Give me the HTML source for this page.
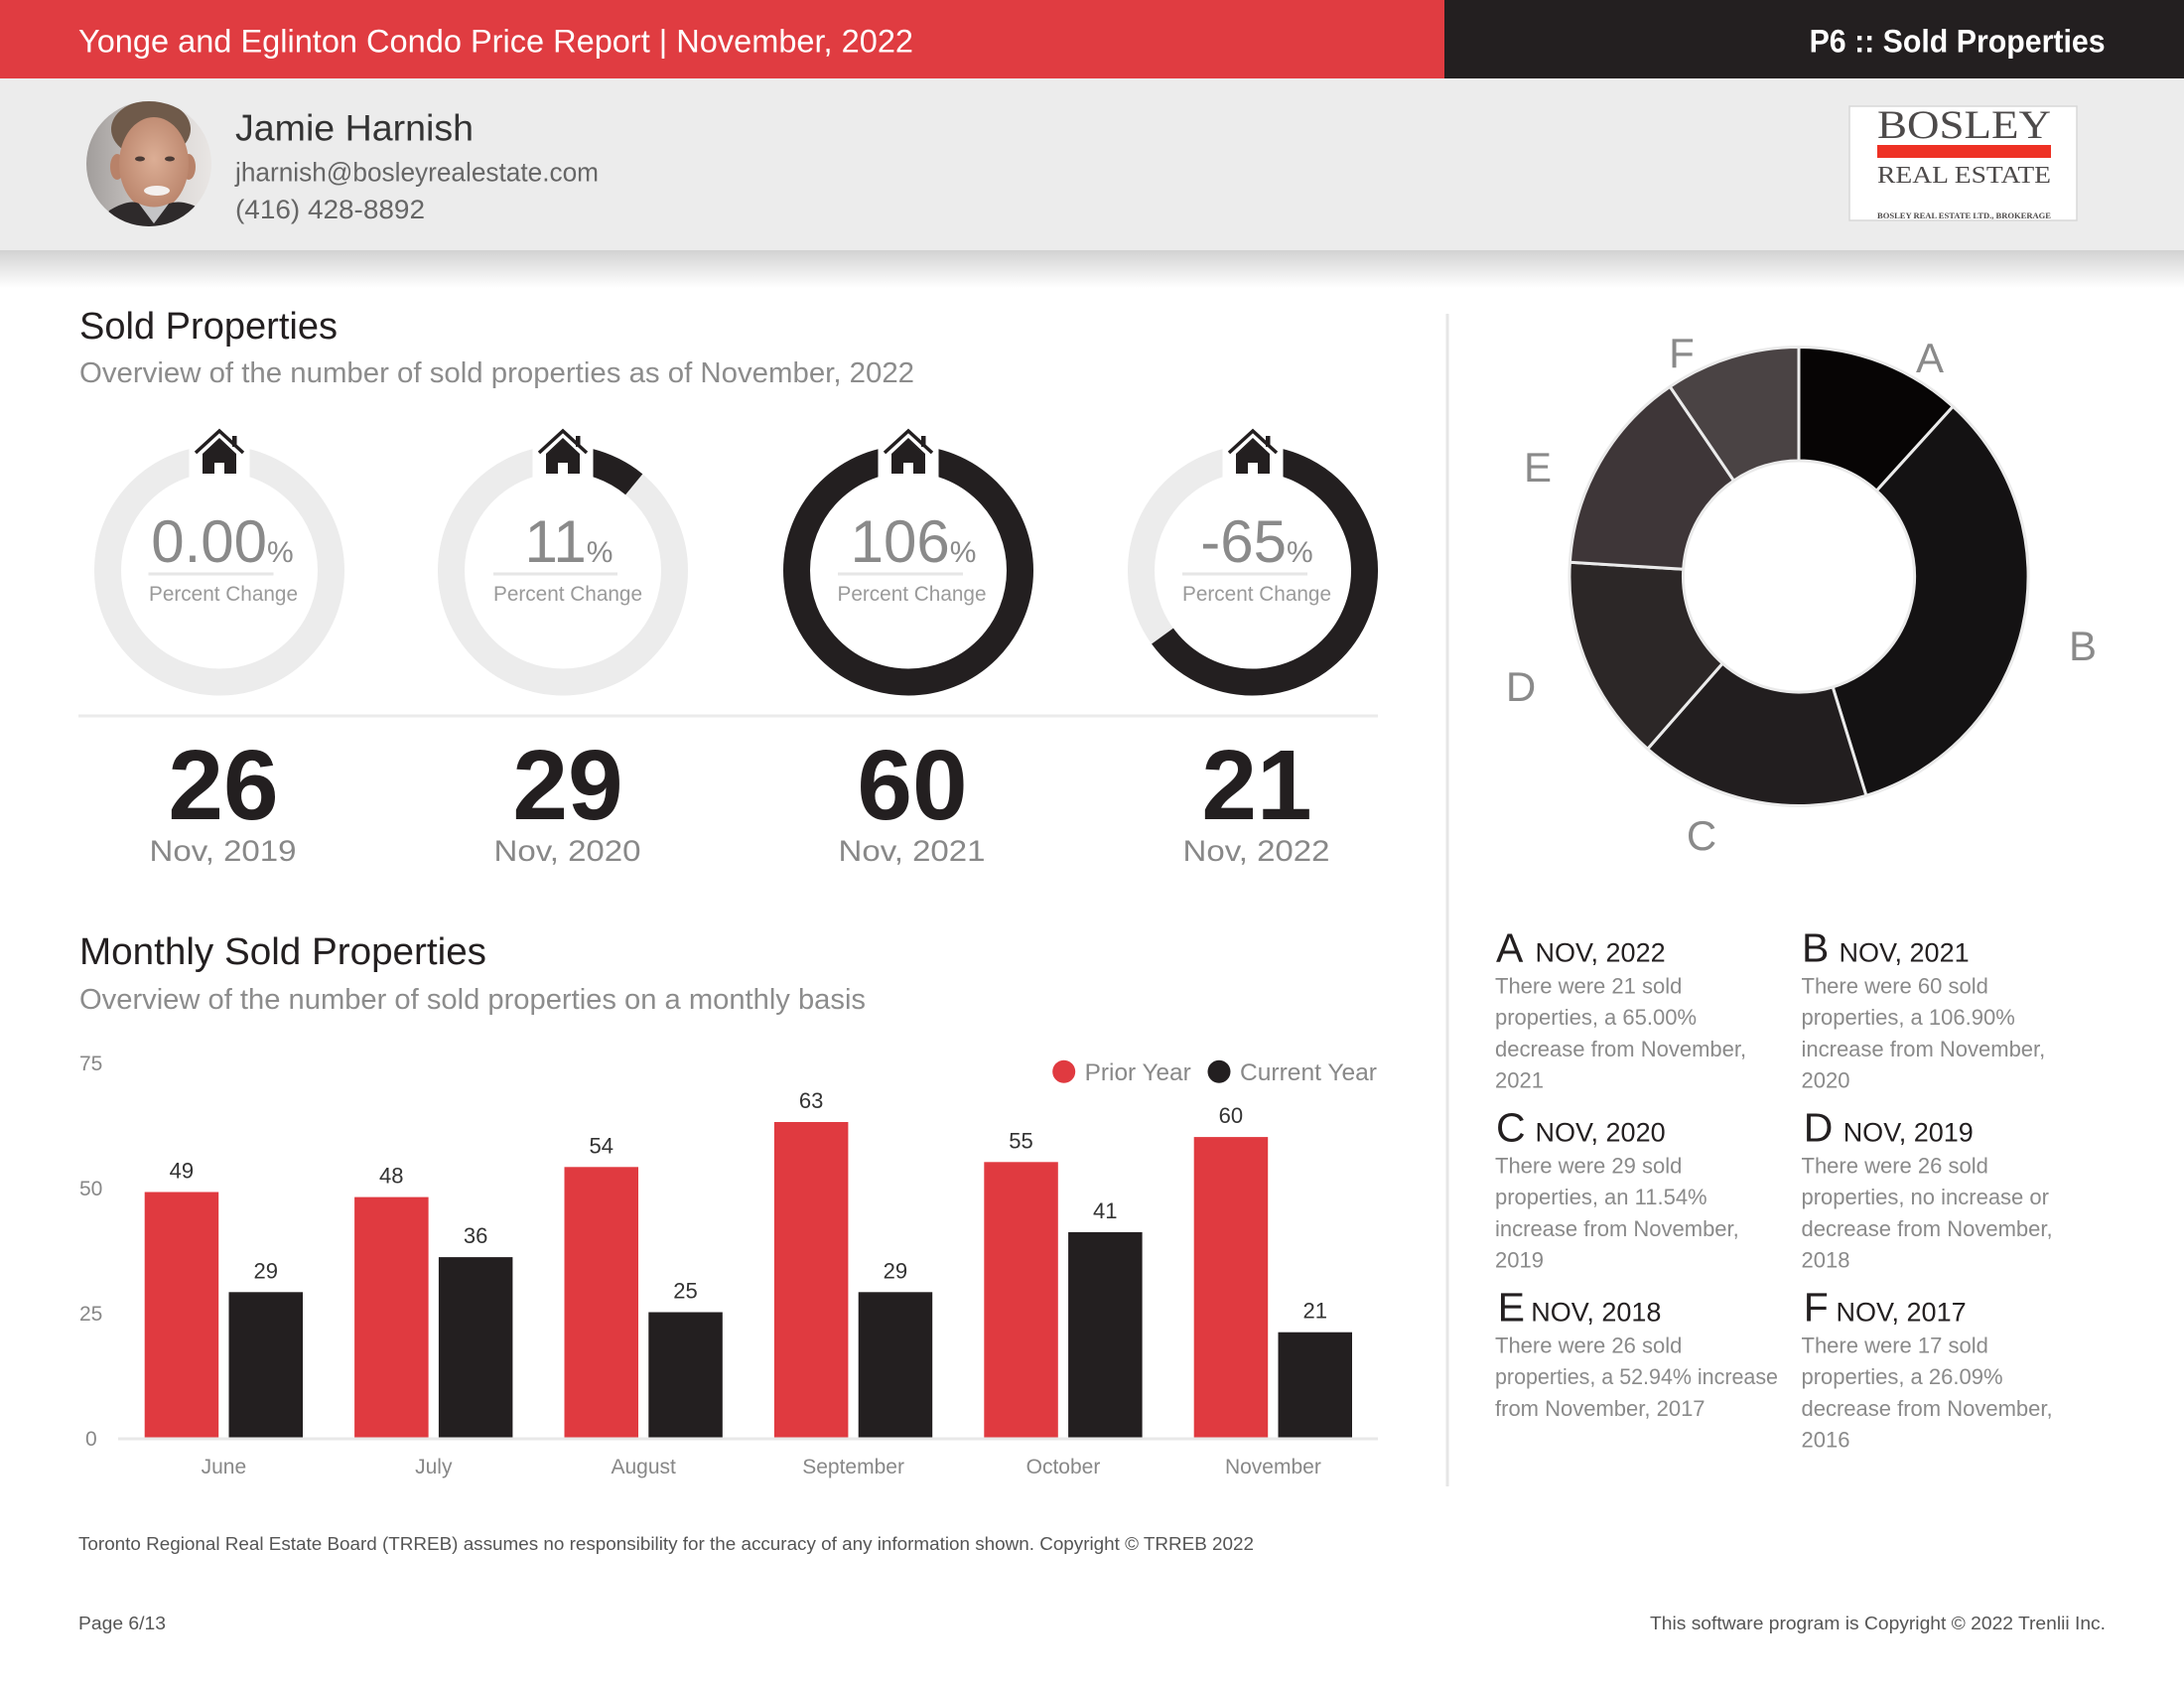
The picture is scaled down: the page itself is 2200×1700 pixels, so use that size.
<!DOCTYPE html>
<html>
<head>
<meta charset="utf-8">
<style>
html,body{margin:0;padding:0;background:#fff;}
svg{display:block;}
text{font-family:"Liberation Sans",Arial,sans-serif;}
</style>
</head>
<body>
<svg width="2200" height="1700" viewBox="0 0 2200 1700" xmlns="http://www.w3.org/2000/svg">
<defs>
<linearGradient id="shadow" x1="0" y1="0" x2="0" y2="1">
<stop offset="0" stop-color="#d2d2d2"/>
<stop offset="1" stop-color="#ffffff"/>
</linearGradient>
<linearGradient id="photobg" x1="0" y1="0" x2="1" y2="0">
<stop offset="0" stop-color="#9c9896"/>
<stop offset="0.6" stop-color="#d8d4d2"/>
<stop offset="1" stop-color="#ebe8e6"/>
</linearGradient>
<radialGradient id="skin" cx="0.5" cy="0.45" r="0.6">
<stop offset="0" stop-color="#dcae95"/>
<stop offset="1" stop-color="#b88269"/>
</radialGradient>
<clipPath id="pc"><circle cx="150" cy="165" r="63"/></clipPath>
</defs>

<!-- Top bar -->
<rect x="0" y="0" width="1455" height="79" fill="#e03c41"/>
<rect x="1455" y="0" width="745" height="79" fill="#231f20"/>
<text x="79" y="52.5" font-size="32" fill="#ffffff" textLength="841" lengthAdjust="spacingAndGlyphs">Yonge and Eglinton Condo Price Report | November, 2022</text>
<text x="1822.6" y="52.5" font-size="32" font-weight="bold" fill="#ffffff" textLength="298" lengthAdjust="spacingAndGlyphs">P6 :: Sold Properties</text>

<!-- Gray band -->
<rect x="0" y="79" width="2200" height="173" fill="#ececec"/>
<rect x="0" y="252" width="2200" height="38" fill="url(#shadow)"/>

<!-- Photo -->
<g clip-path="url(#pc)">
<rect x="80" y="95" width="140" height="140" fill="url(#photobg)"/>
<ellipse cx="152" cy="130" rx="40" ry="29" fill="#6f5a4a"/>
<ellipse cx="118" cy="168" rx="7" ry="13" fill="#b88269"/>
<ellipse cx="190" cy="168" rx="7" ry="13" fill="#b88269"/>
<ellipse cx="155" cy="165" rx="35" ry="47" fill="url(#skin)"/>
<path d="M100,235 L110,212 Q130,200 140,205 L155,225 L170,205 Q185,200 205,212 L215,235 Z" fill="#2e2a2b"/>
<path d="M140,205 L155,225 L170,205 Q155,212 140,205 Z" fill="#c4c4c6"/>
<ellipse cx="158" cy="192" rx="13" ry="5" fill="#f4f0ee"/>
<ellipse cx="141" cy="160" rx="5" ry="2.5" fill="#4a3a35"/>
<ellipse cx="171" cy="160" rx="5" ry="2.5" fill="#4a3a35"/>
</g>

<text x="237" y="141.7" font-size="37" fill="#333333" textLength="240" lengthAdjust="spacingAndGlyphs">Jamie Harnish</text>
<text x="237" y="182.5" font-size="27" fill="#666666" textLength="366" lengthAdjust="spacingAndGlyphs">jharnish@bosleyrealestate.com</text>
<text x="237" y="220" font-size="27" fill="#666666" textLength="191" lengthAdjust="spacingAndGlyphs">(416) 428-8892</text>

<!-- Logo -->
<rect x="1863" y="107" width="229" height="115" fill="#ffffff" stroke="#d8d8d8" stroke-width="1.5"/>
<text x="1891" y="139" font-family="Liberation Serif, serif" style="font-family:'Liberation Serif',serif" font-size="40" fill="#4d4a4a" textLength="175" lengthAdjust="spacingAndGlyphs">BOSLEY</text>
<rect x="1891" y="146" width="175" height="13" fill="#ee3124"/>
<text x="1891" y="184" style="font-family:'Liberation Serif',serif" font-size="24" fill="#4d4a4a" textLength="175" lengthAdjust="spacingAndGlyphs">REAL ESTATE</text>
<text x="1891" y="220" style="font-family:'Liberation Serif',serif" font-size="8" font-weight="bold" fill="#4d4a4a" textLength="175" lengthAdjust="spacingAndGlyphs">BOSLEY REAL ESTATE LTD., BROKERAGE</text>

<!-- Section 1 titles -->
<text x="80" y="341" font-size="38" fill="#231f20" textLength="260" lengthAdjust="spacingAndGlyphs">Sold Properties</text>
<text x="80" y="385" font-size="29" fill="#8c8c8c" textLength="841" lengthAdjust="spacingAndGlyphs">Overview of the number of sold properties as of November, 2022</text>

<!-- Donut rings -->
<g fill="none" stroke-width="27">
<circle cx="221" cy="574.5" r="112.5" stroke="#ececec"/>
<circle cx="567" cy="574.5" r="112.5" stroke="#ececec"/>
<path d="M567,462 A112.5,112.5 0 0 1 638.7,487.8" stroke="#231f20"/>
<circle cx="915" cy="574.5" r="112.5" stroke="#231f20"/>
<circle cx="1262" cy="574.5" r="112.5" stroke="#ececec"/>
<path d="M1262,462 A112.5,112.5 0 1 1 1171,640.6" stroke="#231f20"/>
</g>

<!-- House icons -->
<g id="houses">
<g transform="translate(221,0)">
<rect x="-30.5" y="444" width="61" height="38" fill="#ffffff"/>
<polyline points="-24,456 0,434 24,456" fill="none" stroke="#231f20" stroke-width="3.5"/>
<rect x="13" y="439" width="4.5" height="11" fill="#231f20"/>
<polygon points="-17,457 0,441 17,457 17,477 5,477 5,466 -5,466 -5,477 -17,477" fill="#231f20"/>
</g>
<g transform="translate(567,0)">
<rect x="-30.5" y="444" width="61" height="38" fill="#ffffff"/>
<polyline points="-24,456 0,434 24,456" fill="none" stroke="#231f20" stroke-width="3.5"/>
<rect x="13" y="439" width="4.5" height="11" fill="#231f20"/>
<polygon points="-17,457 0,441 17,457 17,477 5,477 5,466 -5,466 -5,477 -17,477" fill="#231f20"/>
</g>
<g transform="translate(915,0)">
<rect x="-30.5" y="444" width="61" height="38" fill="#ffffff"/>
<polyline points="-24,456 0,434 24,456" fill="none" stroke="#231f20" stroke-width="3.5"/>
<rect x="13" y="439" width="4.5" height="11" fill="#231f20"/>
<polygon points="-17,457 0,441 17,457 17,477 5,477 5,466 -5,466 -5,477 -17,477" fill="#231f20"/>
</g>
<g transform="translate(1262,0)">
<rect x="-30.5" y="444" width="61" height="38" fill="#ffffff"/>
<polyline points="-24,456 0,434 24,456" fill="none" stroke="#231f20" stroke-width="3.5"/>
<rect x="13" y="439" width="4.5" height="11" fill="#231f20"/>
<polygon points="-17,457 0,441 17,457 17,477 5,477 5,466 -5,466 -5,477 -17,477" fill="#231f20"/>
</g>
</g>

<!-- Donut inner texts -->
<g fill="#8a8a8a" text-anchor="middle">
<text x="224" y="566" font-size="60">0.00<tspan font-size="30">%</tspan></text>
<text x="573" y="566" font-size="60">11<tspan font-size="30">%</tspan></text>
<text x="920" y="566" font-size="60">106<tspan font-size="30">%</tspan></text>
<text x="1266" y="566" font-size="60">-65<tspan font-size="30">%</tspan></text>
</g>
<g stroke="#e6e6e6" stroke-width="3">
<line x1="149.5" y1="578" x2="275.5" y2="578"/>
<line x1="497" y1="578" x2="622" y2="578"/>
<line x1="844" y1="578" x2="970" y2="578"/>
<line x1="1191" y1="578" x2="1317" y2="578"/>
</g>
<g fill="#9a9a9a" font-size="21" text-anchor="middle">
<text x="225" y="605" textLength="150" lengthAdjust="spacingAndGlyphs">Percent Change</text>
<text x="572" y="605" textLength="150" lengthAdjust="spacingAndGlyphs">Percent Change</text>
<text x="918.5" y="605" textLength="150" lengthAdjust="spacingAndGlyphs">Percent Change</text>
<text x="1266" y="605" textLength="150" lengthAdjust="spacingAndGlyphs">Percent Change</text>
</g>

<line x1="79" y1="721" x2="1388" y2="721" stroke="#ebebeb" stroke-width="3"/>

<g fill="#231f20" font-size="100" font-weight="bold" text-anchor="middle">
<text x="225" y="825">26</text>
<text x="572" y="825">29</text>
<text x="919" y="825">60</text>
<text x="1266" y="825">21</text>
</g>
<g fill="#888888" font-size="30" text-anchor="middle">
<text x="224.5" y="867" textLength="148" lengthAdjust="spacingAndGlyphs">Nov, 2019</text>
<text x="571.5" y="867" textLength="148" lengthAdjust="spacingAndGlyphs">Nov, 2020</text>
<text x="918.5" y="867" textLength="148" lengthAdjust="spacingAndGlyphs">Nov, 2021</text>
<text x="1265.5" y="867" textLength="148" lengthAdjust="spacingAndGlyphs">Nov, 2022</text>
</g>

<!-- Section 2 titles -->
<text x="80" y="971" font-size="38" fill="#231f20" textLength="410" lengthAdjust="spacingAndGlyphs">Monthly Sold Properties</text>
<text x="80" y="1016" font-size="29" fill="#8c8c8c" textLength="792" lengthAdjust="spacingAndGlyphs">Overview of the number of sold properties on a monthly basis</text>

<!-- Bar chart -->
<g fill="#888888" font-size="21">
<text x="80" y="1078">75</text>
<text x="80" y="1204">50</text>
<text x="80" y="1330">25</text>
<text x="86" y="1456">0</text>
</g>

<g fill="#e03a40">
<rect x="145.7" y="1200.5" width="74.5" height="247"/>
<rect x="357.1" y="1205.6" width="74.5" height="241.9"/>
<rect x="568.5" y="1175.3" width="74.5" height="272.2"/>
<rect x="779.9" y="1130" width="74.5" height="317.5"/>
<rect x="991.3" y="1170.3" width="74.5" height="277.2"/>
<rect x="1202.7" y="1145.1" width="74.5" height="302.4"/>
</g>
<g fill="#231f20">
<rect x="230.5" y="1301.3" width="74.5" height="146.2"/>
<rect x="441.9" y="1266.1" width="74.5" height="181.4"/>
<rect x="653.3" y="1321.5" width="74.5" height="126"/>
<rect x="864.7" y="1301.3" width="74.5" height="146.2"/>
<rect x="1076.1" y="1240.9" width="74.5" height="206.6"/>
<rect x="1287.5" y="1341.7" width="74.5" height="105.8"/>
</g>
<line x1="119" y1="1449" x2="1388" y2="1449" stroke="#e8e8e8" stroke-width="3"/>

<g fill="#333333" font-size="22" text-anchor="middle">
<text x="182.9" y="1186.5">49</text>
<text x="394.3" y="1191.6">48</text>
<text x="605.7" y="1161.3">54</text>
<text x="817.1" y="1116">63</text>
<text x="1028.5" y="1156.3">55</text>
<text x="1239.9" y="1131.1">60</text>
<text x="267.7" y="1287.3">29</text>
<text x="479.1" y="1252.1">36</text>
<text x="690.5" y="1307.5">25</text>
<text x="901.9" y="1287.3">29</text>
<text x="1113.3" y="1226.9">41</text>
<text x="1324.7" y="1327.7">21</text>
</g>

<g fill="#888888" font-size="21" text-anchor="middle">
<text x="225.4" y="1484">June</text>
<text x="436.8" y="1484">July</text>
<text x="648.2" y="1484">August</text>
<text x="859.6" y="1484">September</text>
<text x="1071" y="1484">October</text>
<text x="1282.4" y="1484">November</text>
</g>

<circle cx="1071.7" cy="1079.3" r="11.5" fill="#e03a40"/>
<text x="1092.7" y="1088" font-size="24" fill="#888888" textLength="107" lengthAdjust="spacingAndGlyphs">Prior Year</text>
<circle cx="1228" cy="1079.3" r="11.5" fill="#231f20"/>
<text x="1249" y="1088" font-size="24" fill="#888888" textLength="138" lengthAdjust="spacingAndGlyphs">Current Year</text>

<!-- Divider -->
<line x1="1458" y1="316" x2="1458" y2="1497" stroke="#e6e6e6" stroke-width="3"/>

<!-- Pie donut -->
<g stroke="#ebebeb" stroke-width="3" stroke-linejoin="round">
<path d="M1812,349.5 A231,231 0 0 1 1967.3,409.4 L1890.3,494.2 A116.5,116.5 0 0 0 1812,464 Z" fill="#070505"/>
<path d="M1967.3,409.4 A231,231 0 0 1 1879.9,801.3 L1846.2,691.9 A116.5,116.5 0 0 0 1890.3,494.2 Z" fill="#141213"/>
<path d="M1879.9,801.3 A231,231 0 0 1 1659.7,754.2 L1735.2,668.1 A116.5,116.5 0 0 0 1846.2,691.9 Z" fill="#221e1f"/>
<path d="M1659.7,754.2 A231,231 0 0 1 1581.4,566.3 L1695.7,573.3 A116.5,116.5 0 0 0 1735.2,668.1 Z" fill="#2c2727"/>
<path d="M1581.4,566.3 A231,231 0 0 1 1682.2,389.4 L1746.5,484.1 A116.5,116.5 0 0 0 1695.7,573.3 Z" fill="#3e3638"/>
<path d="M1682.2,389.4 A231,231 0 0 1 1812,349.5 L1812,464 A116.5,116.5 0 0 0 1746.5,484.1 Z" fill="#4a4344"/>
</g>

<g fill="#8a8a8a" font-size="42" text-anchor="middle">
<text x="1944" y="375">A</text>
<text x="2098" y="665">B</text>
<text x="1714" y="856">C</text>
<text x="1532" y="706">D</text>
<text x="1549" y="485">E</text>
<text x="1694" y="370">F</text>
</g>

<!-- Pie legend -->
<g fill="#231f20">
<text x="1507" y="968.5" font-size="41">A</text>
<text x="1546.5" y="968.5" font-size="27">NOV, 2022</text>
<text x="1815" y="968.5" font-size="41">B</text>
<text x="1852.5" y="968.5" font-size="27">NOV, 2021</text>
<text x="1507" y="1149.5" font-size="41">C</text>
<text x="1546.5" y="1149.5" font-size="27">NOV, 2020</text>
<text x="1816.7" y="1149.5" font-size="41">D</text>
<text x="1856.7" y="1149.5" font-size="27">NOV, 2019</text>
<text x="1508.6" y="1330.5" font-size="41">E</text>
<text x="1542.3" y="1330.5" font-size="27">NOV, 2018</text>
<text x="1816.7" y="1330.5" font-size="41">F</text>
<text x="1849.5" y="1330.5" font-size="27">NOV, 2017</text>
</g>
<g fill="#8a8a8a" font-size="22">
<text x="1506" y="1000.5">There were 21 sold</text>
<text x="1506" y="1032.2">properties, a 65.00%</text>
<text x="1506" y="1063.9">decrease from November,</text>
<text x="1506" y="1095.6">2021</text>
<text x="1814.5" y="1000.5">There were 60 sold</text>
<text x="1814.5" y="1032.2">properties, a 106.90%</text>
<text x="1814.5" y="1063.9">increase from November,</text>
<text x="1814.5" y="1095.6">2020</text>

<text x="1506" y="1181.5">There were 29 sold</text>
<text x="1506" y="1213.2">properties, an 11.54%</text>
<text x="1506" y="1244.9">increase from November,</text>
<text x="1506" y="1276.6">2019</text>
<text x="1814.5" y="1181.5">There were 26 sold</text>
<text x="1814.5" y="1213.2">properties, no increase or</text>
<text x="1814.5" y="1244.9">decrease from November,</text>
<text x="1814.5" y="1276.6">2018</text>

<text x="1506" y="1362.5">There were 26 sold</text>
<text x="1506" y="1394.2" textLength="285" lengthAdjust="spacingAndGlyphs">properties, a 52.94% increase</text>
<text x="1506" y="1425.9">from November, 2017</text>
<text x="1814.5" y="1362.5">There were 17 sold</text>
<text x="1814.5" y="1394.2">properties, a 26.09%</text>
<text x="1814.5" y="1425.9">decrease from November,</text>
<text x="1814.5" y="1457.6">2016</text>
</g>

<!-- Footer -->
<text x="79" y="1561" font-size="18" fill="#555555" textLength="1184" lengthAdjust="spacingAndGlyphs">Toronto Regional Real Estate Board (TRREB) assumes no responsibility for the accuracy of any information shown. Copyright © TRREB 2022</text>
<text x="79" y="1641" font-size="18" fill="#555555" textLength="88" lengthAdjust="spacingAndGlyphs">Page 6/13</text>
<text x="2121" y="1641" font-size="18" fill="#555555" text-anchor="end" textLength="459" lengthAdjust="spacingAndGlyphs">This software program is Copyright © 2022 Trenlii Inc.</text>
</svg>
</body>
</html>
